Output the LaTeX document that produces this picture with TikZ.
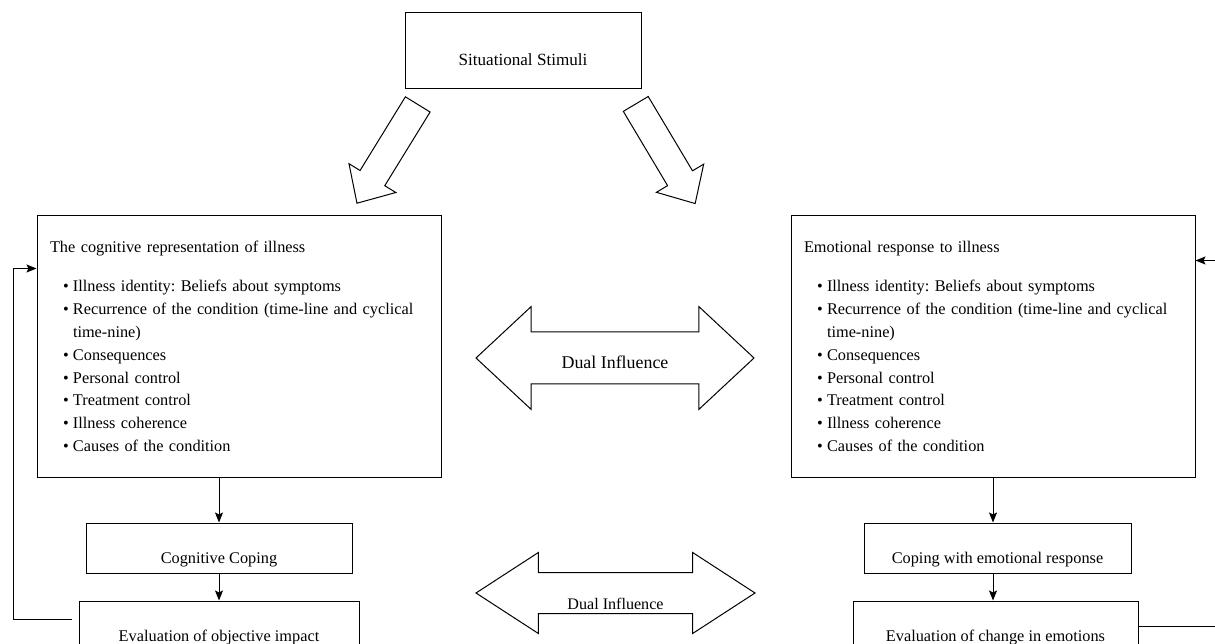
\documentclass[tikz,border=0pt]{standalone}
\usepackage{fontspec}
\setmainfont{Liberation Serif}
\usetikzlibrary{shapes.arrows,arrows.meta,positioning,calc}

\frenchspacing
\newcommand{\bulletitem}{\hspace*{13pt}\makebox[10pt][l]{\textbullet}}

\begin{document}
\begin{tikzpicture}[
    x=1pt, y=1pt,
    stage/.style={rectangle, draw, line width=1pt, inner sep=0pt, minimum height=50pt,
        text height=36pt, text depth=6pt, font=\fontsize{16.3}{20}\selectfont},
    model/.style={rectangle, draw, line width=1pt, inner xsep=13pt, inner ysep=4pt,
        minimum width=404pt, minimum height=261pt, text width=378pt, align=left,
        font=\fontsize{16.3}{22.8}\selectfont},
    stimarrow/.style={single arrow, draw, line width=1pt, inner sep=14pt, minimum height=116pt,
        single arrow head extend=13pt, single arrow tip angle=86, single arrow head indent=0pt},
    influence/.style={double arrow, draw, line width=1pt, inner sep=0pt, double arrow head indent=0pt},
    flow/.style={-{Stealth[length=10pt,width=8pt,inset=2pt]}, line width=1pt}
]
    \useasboundingbox (0,0) rectangle (1215,643);
    \clip (0,0) rectangle (1215,643);

    \node[stage, minimum width=236pt, minimum height=76pt, font=\fontsize{17.1}{20}\selectfont] (stimuli) at (523,592) {Situational Stimuli};

    \node[model] (cogrep) at (239,296.5) {
        The cognitive representation of illness\\[16.3pt]
        \bulletitem Illness identity: Beliefs about symptoms\\
        \bulletitem Recurrence of the condition (time-line and cyclical\\
        \hspace*{23pt}time-nine)\\
        \bulletitem Consequences\\
        \bulletitem Personal control\\
        \bulletitem Treatment control\\
        \bulletitem Illness coherence\\
        \bulletitem Causes of the condition
    };
    \node[model] (emorep) at (993,296.5) {
        Emotional response to illness\\[16.3pt]
        \bulletitem Illness identity: Beliefs about symptoms\\
        \bulletitem Recurrence of the condition (time-line and cyclical\\
        \hspace*{23pt}time-nine)\\
        \bulletitem Consequences\\
        \bulletitem Personal control\\
        \bulletitem Treatment control\\
        \bulletitem Illness coherence\\
        \bulletitem Causes of the condition
    };

    \node[stage, minimum width=266pt, below=45pt of cogrep, xshift=-20pt] (cogcope) {Cognitive Coping};
    \node[stage, minimum width=280pt, below=27pt of cogcope] (evalcog) {Evaluation of objective impact};
    \node[stage, minimum width=267pt, below=45pt of emorep, xshift=4.5pt] (emocope) {Coping with emotional response};
    \node[stage, minimum width=285pt, below=27pt of emocope, xshift=-2pt] (evalemo) {Evaluation of change in emotions};

    % hollow arrows from the stimuli
    \node[stimarrow, rotate=-121.6, anchor=tail] (tocog) at ($(stimuli.south west)+(13.5,-14.5)$) {};
    \node[stimarrow, rotate=-59.2, anchor=tail] (toemo) at ($(stimuli.south east)+(-6,-14)$) {};

    % dual influence
    \node[influence, minimum height=278pt, double arrow head extend=25.5pt, double arrow tip angle=86,
        text height=36pt, text depth=15pt, font=\fontsize{17.9}{20}\selectfont] (dualtop) at (615,285) {Dual Influence};
    \node[influence, minimum height=279pt, double arrow head extend=20pt, double arrow tip angle=66,
        text height=36pt, text depth=4pt, font=\fontsize{16.1}{20}\selectfont] (dualbot) at (615.5,50) {Dual Influence};

    \draw[flow] (cogrep.south -| cogcope.north) -- (cogcope.north);
    \draw[flow] (cogcope) -- (evalcog);
    \draw[flow] (emorep.south) -- (emorep.south |- emocope.north);
    \draw[flow] (emocope.south -| emorep.south) -- (evalemo.north -| emorep.south);

    % feedback lines
    \coordinate (edge) at (1215,0);
    \coordinate (leftrail) at (13,0);
    \coordinate (cogin) at ($(cogrep.north west)+(0,-53)$);
    \coordinate (emoin) at ($(emorep.north east)+(0,-45)$);
    \coordinate (cogback) at ($(evalcog.west)+(-7,7)$);
    \draw[flow] (cogback) -- (cogback -| leftrail) |- (cogin);
    \draw[flow] (emoin -| edge) -- (emoin);
    \draw[line width=1pt] (evalemo.east) -- (evalemo.east -| edge);
\end{tikzpicture}
\end{document}
